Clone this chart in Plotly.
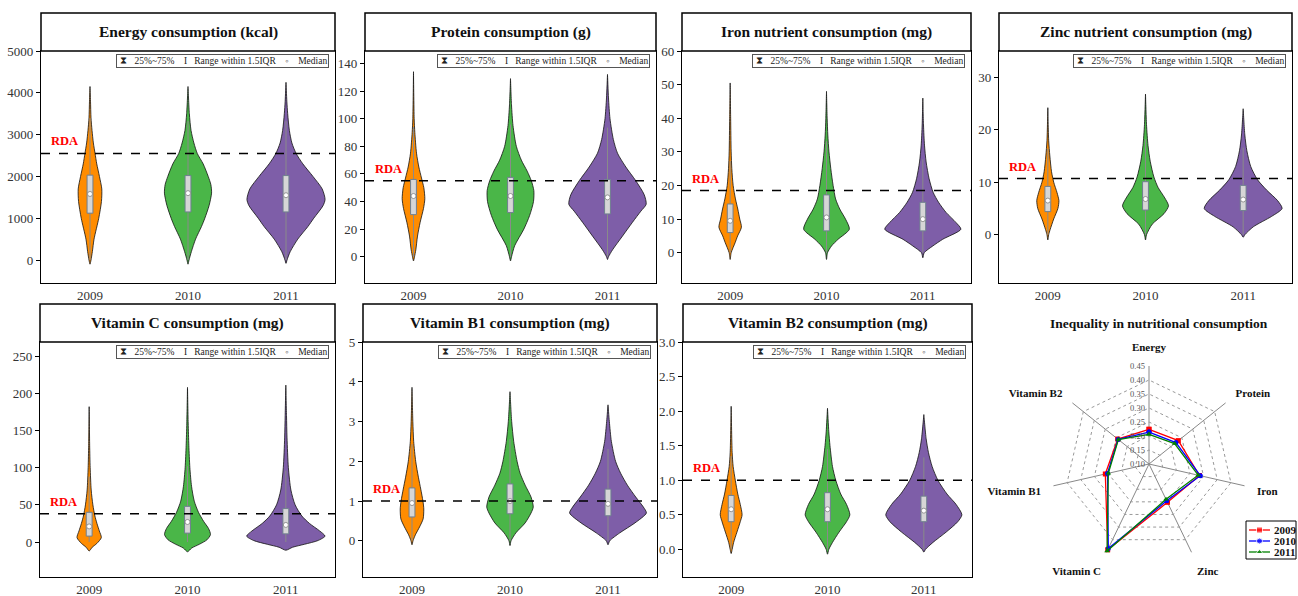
import plotly.graph_objects as go

W, H = 1298, 596
YEARS = ["2009", "2010", "2011"]
VIOLIN_COLORS = ["#FF8C00", "#4AB648", "#7E5EA8"]
SERIF = "Liberation Serif, Times New Roman, serif"

TITLES = ["Energy consumption (kcal)", "Protein consumption (g)", "Iron nutrient consumption (mg)",
          "Zinc nutrient consumption (mg)", "Vitamin C consumption (mg)", "Vitamin B1 consumption (mg)",
          "Vitamin B2 consumption (mg)"]
RDA = [2550, 55, 18.5, 10.7, 38, 1.0, 1.0]

# box statistics per nutrient (2009, 2010, 2011)
Q1 = [[1120, 1150, 1150], [30.5, 32, 31], [6, 6.5, 6.5], [4.4, 4.7, 4.6], [8, 12, 11], [0.60, 0.68, 0.63], [0.40, 0.40, 0.40]]
MED = [[1580, 1600, 1550], [44, 44, 43], [9.5, 10.5, 10], [6.5, 6.8, 6.7], [21, 27, 23], [0.95, 1.0, 0.93], [0.58, 0.58, 0.56]]
Q3 = [[2030, 2020, 2020], [56, 57.5, 56], [14.5, 17.2, 15], [9.2, 10.1, 9.4], [40, 48, 45], [1.33, 1.43, 1.30], [0.78, 0.82, 0.77]]
LOWF = [[0, 0, 0], [0, 0, 0], [0, 0, 0], [0, 0, 0], [0, 0, 0], [0, 0, 0], [0, 0, 0]]
UPF = [[3395, 3325, 3325], [94, 95.8, 93.5], [27.3, 33.2, 27.8], [16.4, 18.2, 16.6], [88, 102, 96], [2.43, 2.56, 2.31], [1.35, 1.45, 1.33]]

# violin density profiles: value levels (Y) and relative widths (W)
ENERGY_Y = [[-100, 0, 200, 500, 1000, 1400, 1700, 2000, 2300, 2550, 2800, 3100, 3400, 3800, 4150],
            [-100, 0, 200, 500, 800, 1000, 1300, 1600, 1800, 2000, 2300, 2550, 2800, 3100, 3500, 4150],
            [-80, 0, 200, 500, 800, 1000, 1300, 1450, 1700, 2000, 2300, 2550, 2800, 3100, 3500, 3800, 4250]]
ENERGY_W = [[0, 6, 14, 24, 52, 68, 70, 56, 40, 30, 20, 12, 6, 3, 0],
            [0, 6, 20, 45, 80, 100, 125, 140, 136, 120, 90, 55, 35, 18, 8, 0],
            [0, 6, 25, 70, 130, 165, 220, 232, 215, 160, 100, 60, 35, 20, 10, 5, 0]]
PROTEIN_Y = [[-3, 0, 5, 15, 25, 35, 42, 50, 57, 65, 75, 90, 100, 134],
             [-3, 0, 8, 20, 30, 40, 48, 55, 62, 70, 80, 95, 110, 129],
             [-2, 0, 5, 15, 25, 33, 38, 45, 55, 65, 75, 85, 100, 115, 132]]
PROTEIN_W = [[0, 6, 14, 24, 40, 60, 68, 62, 48, 32, 18, 8, 4, 0],
             [0, 6, 25, 80, 115, 138, 140, 125, 100, 65, 35, 15, 6, 0],
             [0, 6, 30, 90, 150, 200, 232, 220, 170, 110, 60, 35, 15, 6, 0]]
IRON_Y = [[-2, 0, 3, 5, 7.6, 10, 13, 16, 20, 25, 30, 40, 50.5],
          [-2, 0, 2, 4, 7, 10, 13, 16, 20, 25, 30, 35, 40, 48],
          [-1.5, 0, 2, 4, 7, 9, 12, 15, 18, 22, 27, 32, 38, 46]]
IRON_W = [[0, 6, 30, 45, 68, 58, 46, 32, 18, 10, 6, 3, 0],
          [0, 6, 30, 70, 138, 115, 80, 55, 40, 26, 15, 8, 4, 0],
          [0, 8, 60, 120, 230, 200, 140, 95, 62, 38, 20, 10, 4, 0]]
ZINC_Y = [[-1, 0, 1, 3, 5, 6.5, 8, 10, 12, 15, 18, 24.2],
          [-1, 0, 2, 4, 5.5, 7, 9, 11, 14, 17, 21, 26.8],
          [-0.5, 0, 1.5, 3.5, 5, 6.5, 8.5, 10.5, 13, 16, 19, 24]]
ZINC_W = [[0, 5, 14, 35, 60, 66, 55, 35, 22, 12, 5, 0],
          [0, 6, 40, 110, 137, 115, 75, 50, 28, 15, 6, 0],
          [0, 10, 60, 170, 232, 205, 140, 85, 45, 22, 10, 0]]
VITC_Y = [[-12, -7, -2, 6, 15, 25, 35, 50, 70, 100, 130, 182],
          [-13, -8, -3, 3, 10, 18, 28, 40, 55, 75, 100, 130, 160, 208],
          [-11, -7, -3, 2, 8, 15, 25, 35, 50, 70, 100, 140, 170, 211]]
VITC_W = [[0, 18, 45, 72, 60, 46, 34, 22, 12, 6, 3, 0],
          [0, 25, 70, 115, 136, 125, 95, 65, 40, 24, 14, 8, 4, 0],
          [0, 40, 110, 190, 232, 200, 140, 95, 55, 30, 15, 7, 4, 0]]
B1_Y = [[-0.1, 0, 0.15, 0.35, 0.55, 0.8, 1.0, 1.3, 1.6, 2.0, 2.5, 3.0, 3.86],
        [-0.12, 0, 0.2, 0.45, 0.7, 0.85, 1.1, 1.4, 1.7, 2.0, 2.5, 3.0, 3.75],
        [-0.1, 0, 0.2, 0.45, 0.7, 0.85, 1.1, 1.4, 1.7, 2.0, 2.5, 3.0, 3.42]]
B1_W = [[0, 6, 20, 45, 66, 70, 65, 52, 38, 22, 10, 5, 0],
        [0, 6, 35, 90, 125, 138, 125, 90, 60, 42, 22, 10, 0],
        [0, 10, 70, 160, 228, 210, 165, 115, 75, 45, 20, 8, 0]]
B2_Y = [[-0.06, 0, 0.1, 0.25, 0.4, 0.5, 0.65, 0.8, 1.0, 1.2, 1.4, 2.07],
        [-0.07, 0, 0.1, 0.25, 0.4, 0.5, 0.65, 0.8, 1.0, 1.2, 1.5, 1.7, 2.04],
        [-0.04, 0, 0.1, 0.25, 0.4, 0.5, 0.65, 0.8, 1.0, 1.2, 1.4, 1.6, 1.95]]
B2_W = [[0, 6, 15, 35, 55, 66, 55, 40, 25, 12, 6, 0],
        [0, 8, 30, 70, 115, 135, 115, 80, 50, 30, 15, 8, 0],
        [0, 10, 55, 135, 205, 230, 195, 140, 85, 50, 28, 14, 0]]

PROFILES_Y = [ENERGY_Y, PROTEIN_Y, IRON_Y, ZINC_Y, VITC_Y, B1_Y, B2_Y]
PROFILES_W = [ENERGY_W, PROTEIN_W, IRON_W, ZINC_W, VITC_W, B1_W, B2_W]

Y_RANGES = [[-550, 5000], [-19, 149], [-9, 60], [-9.2, 35], [-47, 269], [-0.91, 5], [-0.4, 3.0]]
Y_TICKS = [[0, 1000, 2000, 3000, 4000, 5000], [0, 20, 40, 60, 80, 100, 120, 140], [0, 10, 20, 30, 40, 50, 60],
           [0, 10, 20, 30], [0, 50, 100, 150, 200, 250], [0, 1, 2, 3, 4, 5], [0, 0.5, 1.0, 1.5, 2.0, 2.5, 3.0]]

# radar data
RADAR_AXES = ["Energy", "Protein", "Iron", "Zinc", "Vitamin C", "Vitamin B1", "Vitamin B2"]
GINI_2009 = [0.224, 0.234, 0.285, 0.252, 0.440, 0.260, 0.243]
GINI_2010 = [0.214, 0.223, 0.288, 0.246, 0.435, 0.252, 0.241]
GINI_2011 = [0.206, 0.217, 0.280, 0.240, 0.445, 0.249, 0.240]
RADAR_TICKS = [0.10, 0.15, 0.20, 0.25, 0.30, 0.35, 0.40, 0.45]

# ---- layout geometry (page pixels) ----
PANEL_X = [(41, 335), (365, 656), (682, 971), (999, 1292), (40, 335), (363, 657), (683, 972)]
ROW_TITLE_TOP = [13, 304]
ROW_PLOT = [(51, 283), (342, 577)]
WIDTH_SCALE = 1 / 582.0
BOX_HALF = 0.03


def fx(p):
    return p / W


def fy(p):
    return 1 - p / H


fig = go.Figure()
layout = dict(width=W, height=H, margin=dict(l=0, r=0, t=0, b=0, autoexpand=False), paper_bgcolor="white",
              plot_bgcolor="white", showlegend=False, font=dict(family=SERIF, color="#222"))
shapes, annotations = [], []
NB = "\u00a0"

for k in range(7):
    row = 0 if k < 4 else 1
    x0, x1 = PANEL_X[k]
    py0, py1 = ROW_PLOT[row]
    ax = "" if k == 0 else str(k + 1)
    xa, ya = "x" + ax, "y" + ax

    for i in range(3):
        ys = PROFILES_Y[k][i]
        ws = PROFILES_W[k][i]
        xs_r = [i + w * WIDTH_SCALE for w in ws]
        xs_l = [i - w * WIDTH_SCALE for w in ws]
        fig.add_trace(go.Scatter(
            x=xs_r + xs_l[::-1], y=ys + ys[::-1], mode="lines", fill="toself",
            fillcolor=VIOLIN_COLORS[i], line=dict(color="#111", width=0.8, shape="spline", smoothing=0.7),
            xaxis=xa, yaxis=ya, hoverinfo="skip"))
    for i in range(3):
        fig.add_trace(go.Scatter(
            x=[i, i], y=[LOWF[k][i], UPF[k][i]], mode="lines", line=dict(color="#8A8A8A", width=1),
            xaxis=xa, yaxis=ya, hoverinfo="skip"))
        fig.add_trace(go.Scatter(
            x=[i - BOX_HALF, i + BOX_HALF, i + BOX_HALF, i - BOX_HALF, i - BOX_HALF],
            y=[Q1[k][i], Q1[k][i], Q3[k][i], Q3[k][i], Q1[k][i]], mode="lines", fill="toself",
            fillcolor="#D6D6D6", line=dict(color="#6F7F8F", width=1), xaxis=xa, yaxis=ya, hoverinfo="skip"))
    fig.add_trace(go.Scatter(
        x=[0, 1, 2], y=MED[k], mode="markers",
        marker=dict(symbol="circle", size=5, color="white", line=dict(color="#808080", width=0.8)),
        xaxis=xa, yaxis=ya, hoverinfo="skip"))

    layout["xaxis" + ax] = dict(domain=[fx(x0), fx(x1)], anchor=ya, range=[-0.5, 2.5],
                                tickvals=[0, 1, 2], ticktext=YEARS, showline=True, linecolor="black",
                                linewidth=1.3, mirror=True, ticks="", showgrid=False, zeroline=False,
                                tickfont=dict(family=SERIF, size=13, color="#333"))
    yax = dict(domain=[fy(py1), fy(py0)], anchor=xa, range=Y_RANGES[k], tickvals=Y_TICKS[k],
               showline=True, linecolor="black", linewidth=1.3, mirror=True, ticks="outside", ticklen=4,
               tickcolor="black", showgrid=False, zeroline=False,
               tickfont=dict(family=SERIF, size=13, color="#333"))
    if k == 6:
        yax["tickformat"] = ".1f"
    layout["yaxis" + ax] = yax

    # title box
    tt = ROW_TITLE_TOP[row]
    shapes.append(dict(type="rect", xref="paper", yref="paper", x0=fx(x0), x1=fx(x1),
                       y0=fy(py0), y1=fy(tt), line=dict(color="black", width=1.5),
                       fillcolor="white", layer="above"))
    annotations.append(dict(xref="paper", yref="paper", x=fx((x0 + x1) / 2), y=fy((tt + py0) / 2),
                            text="<b>" + TITLES[k] + "</b>", showarrow=False, xanchor="center",
                            yanchor="middle", font=dict(family=SERIF, size=15.5, color="#111")))
    # RDA line and label
    xd = xa + " domain"
    yd = ya + " domain"
    shapes.append(dict(type="line", xref=xd, yref=ya, x0=0, x1=1, y0=RDA[k], y1=RDA[k],
                       line=dict(color="black", width=1.5, dash="dash"), layer="above"))
    annotations.append(dict(xref=xd, yref=ya, x=0, y=RDA[k], xshift=8, yshift=12, xanchor="left",
                            yanchor="middle", text="<b>RDA</b>", showarrow=False,
                            font=dict(family=SERIF, size=12.5, color="#FF0000")))
    # inner legend box
    legend_text = (NB + "⧗" + NB * 3 + "25%~75%" + NB * 4 + "I" + NB * 3 + "Range within 1.5IQR" + NB * 4
                   + "◦" + NB * 4 + "Median")
    annotations.append(dict(xref=xd, yref=yd, x=1, y=1, xshift=-6, yshift=-3,
                            xanchor="right", yanchor="top", showarrow=False, text=legend_text,
                            font=dict(family=SERIF, size=9.5, color="#222"),
                            bordercolor="#555", borderwidth=1, borderpad=1, bgcolor="white"))

# radar chart
cx, cy, rad = 1149, 464, 98
RMIN, RMAX = RADAR_TICKS[0], RADAR_TICKS[-1]
layout["polar"] = dict(
    domain=dict(x=[fx(cx - rad), fx(cx + rad)], y=[fy(cy + rad), fy(cy - rad)]),
    bgcolor="white", gridshape="linear",
    radialaxis=dict(range=[RMIN, RMAX], tickvals=RADAR_TICKS, angle=90, showticklabels=False,
                    showline=False, gridcolor="#999", griddash="dot", gridwidth=0.8, ticks=""),
    angularaxis=dict(direction="clockwise", rotation=90, showline=False, gridcolor="#888", gridwidth=0.8,
                     tickfont=dict(family=SERIF, size=11, color="#111"), ticks="outside", ticklen=10,
                     tickcolor="rgba(0,0,0,0)"))
RADAR_STYLE = [("2009", GINI_2009, "#FF0000", "square"), ("2010", GINI_2010, "#0000FF", "circle"),
               ("2011", GINI_2011, "#008000", "triangle-up")]
for name, vals, col, sym in RADAR_STYLE:
    fig.add_trace(go.Scatterpolar(
        r=vals + vals[:1], theta=[f"<b>{a}</b>" for a in RADAR_AXES + RADAR_AXES[:1]], mode="lines+markers",
        name=name, line=dict(color=col, width=1.3), marker=dict(symbol=sym, size=5, color=col)))
# radial tick labels along the Energy spoke
for t in RADAR_TICKS:
    annotations.append(dict(xref="paper", yref="paper", x=fx(cx - 2), y=fy(cy - (t - RMIN) / (RMAX - RMIN) * rad),
                            xanchor="right", yanchor="middle", text=f"{t:.2f}", showarrow=False,
                            font=dict(family=SERIF, size=8.5, color="#555")))

annotations.append(dict(xref="paper", yref="paper", x=fx(1159), y=fy(323), xanchor="center",
                        yanchor="middle", text="<b>Inequality in nutritional consumption</b>",
                        showarrow=False, font=dict(family=SERIF, size=13.5, color="#111")))

# custom legend for the radar chart (hidden helper axis, pixel units)
LG = (1246, 521, 1296, 559)
layout["xaxis8"] = dict(domain=[fx(LG[0]), fx(LG[2])], range=[0, LG[2] - LG[0]], visible=False,
                        anchor="y8", fixedrange=True)
layout["yaxis8"] = dict(domain=[fy(LG[3]), fy(LG[1])], range=[LG[3] - LG[1], 0], visible=False,
                        anchor="x8", fixedrange=True)
shapes.append(dict(type="rect", xref="x8 domain", yref="y8 domain", x0=0, x1=1, y0=0, y1=1,
                   line=dict(color="black", width=1), fillcolor="rgba(0,0,0,0)"))
for j, (name, vals, col, sym) in enumerate(RADAR_STYLE):
    ry = 9 + 11 * j
    fig.add_trace(go.Scatter(x=[3, 13.5, 24], y=[ry, ry, ry], mode="lines+markers", xaxis="x8", yaxis="y8",
                             line=dict(color=col, width=1.3),
                             marker=dict(symbol=sym, size=[0, 6, 0], color=col), hoverinfo="skip"))
    annotations.append(dict(xref="x8", yref="y8", x=26, y=ry, xanchor="left", yanchor="middle",
                            text=f"<b>{name}</b>", showarrow=False,
                            font=dict(family=SERIF, size=11, color="#111")))

layout["shapes"] = shapes
layout["annotations"] = annotations
fig.update_layout(**layout)
fig.write_html("out.html", config={"displayModeBar": False},
               post_script="document.body.style.margin='0px';")
